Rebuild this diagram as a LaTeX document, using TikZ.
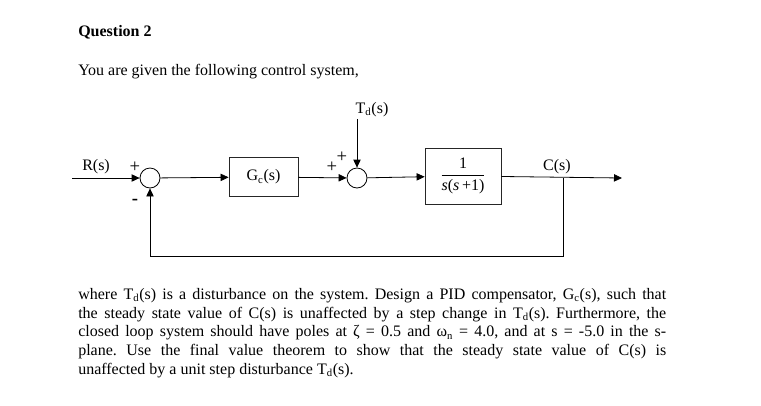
\documentclass[tikz,border=0pt]{standalone}
\usepackage{fontspec}
\setmainfont{Liberation Serif}
\usepackage{amsmath}
\usetikzlibrary{arrows.meta, positioning}
\tikzset{
    block/.style={draw=black!85, line width=0.6pt, inner sep=2pt},
    sumnode/.style={draw, circle, line width=0.6pt, minimum size=15pt, inner sep=0pt},
    sig/.style={line width=0.6pt, -{Triangle[length=6pt, width=5.5pt]}},
    wire/.style={line width=0.6pt},
    sign/.style={font=\fontsize{14}{16}\selectfont, inner sep=0pt},
}
\newcommand{\Td}{T\textsubscript{d}(s)}

\begin{document}
\begin{tikzpicture}[x=0.75pt, y=-0.75pt, font=\fontsize{12}{14}\selectfont]
    \useasboundingbox (0,0) rectangle (761,405);

    % heading and first sentence
    \node[anchor=base west, inner sep=0pt, font=\fontsize{12}{14}\selectfont\bfseries] (title) at (78,36) {Question 2};
    \node[anchor=base west, inner sep=0pt] (intro) at (78,75) {You are given the following control system,};

    % blocks
    \node[sumnode] (sum1) at (150,178) {};
    \node[block, minimum width=51.75pt, minimum height=29.25pt] (gc) at (263.5,177) {G\textsubscript{c}(s)};
    \node[sumnode] (sum2) at (357,178) {};
    \node[block, minimum width=57pt, minimum height=42pt] (plant) at (463,176)
        {$\dfrac{\text{1}}{\textit{s}\text{(}\textit{s}\,\text{+1)}}$};

    \coordinate (rin) at (72,178);
    \coordinate (tdin) at (357,119);
    \coordinate (cout) at (622,178);
    \coordinate (branch) at (563,178);
    \coordinate (fbr) at (563,256);
    \coordinate (fbl) at (150,256);

    % labels
    \node[anchor=base west, inner sep=0pt] (rlab) at (82,170) {R(s)};
    \node[anchor=base, inner sep=0pt] (tdlab) at (372,113) {\Td};
    \node[anchor=base, inner sep=0pt] (clab) at (557,170) {C(s)};
    \node[sign] (p1) at (135,167) {+};
    \node[sign, font=\fontsize{14}{16}\selectfont\bfseries] (m1) at (135,202) {-};
    \node[sign] (p2) at (332,167) {+};
    \node[sign] (p3) at (342,157) {+};

    % signals
    \draw[sig] (rin) -- (sum1);
    \draw[sig] (sum1) -- (gc);
    \draw[sig] (gc) -- (sum2);
    \draw[sig] (tdin) -- (sum2);
    \draw[sig] (sum2) -- (plant);
    \draw[sig] (plant) -- (cout);
    \draw[wire] (branch) -- (fbr) -- (fbl);
    \draw[sig] (fbl) -- (sum1);

    % question text
    \node[anchor=north west, inner sep=0pt, text width=441pt, align=justify, font=\fontsize{12}{14}\selectfont\frenchspacing] (text) at (78,288)
        {where \Td{} is a disturbance on the system. Design a PID compensator, G\textsubscript{c}(s), such that\linebreak
        the steady state value of C(s) is unaffected by a step change in \Td. Furthermore, the\linebreak
        closed loop system should have poles at ζ = 0.5 and ω\textsubscript{n} = 4.0, and at s = -5.0 in the s-\linebreak
        plane. Use the final value theorem to show that the steady state value of C(s) is\linebreak
        unaffected by a unit step disturbance \Td.};
\end{tikzpicture}
\end{document}
